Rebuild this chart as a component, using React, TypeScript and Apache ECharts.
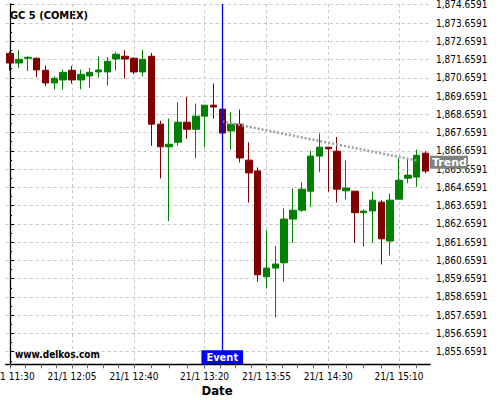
import React, { useEffect, useRef } from "react";
import * as echarts from "echarts";

const times = [
  "11:30","11:35","11:40","11:45","11:50","11:55","12:00","12:05","12:10","12:15","12:20","12:25",
  "12:30","12:35","12:40","12:45","12:50","12:55","13:00","13:05","13:10","13:15","13:20","13:25",
  "13:30","13:35","13:40","13:45","13:50","13:55","14:00","14:05","14:10","14:15","14:20","14:25",
  "14:30","14:35","14:40","14:45","14:50","14:55","15:00","15:05","15:10","15:15","15:20","15:25",
];
const opens = [1871.99,1871.47,1871.73,1871.73,1871.07,1870.38,1870.54,1871.07,1870.54,1870.76,1870.98,1870.98,1871.69,1871.84,1871.73,1870.98,1871.84,1868.12,1866.88,1867.13,1868.23,1867.84,1868.56,1869.16,1868.94,1867.75,1868.12,1866.15,1865.56,1859.76,1860.24,1860.53,1862.92,1863.41,1864.45,1866.37,1866.86,1866.64,1864.47,1864.45,1863.27,1863.37,1863.85,1861.72,1864.01,1865.16,1865.22,1866.53];
const closes = [1871.47,1871.67,1871.78,1871.09,1870.38,1870.63,1870.96,1870.54,1870.85,1870.96,1871.09,1871.56,1871.95,1871.69,1870.98,1871.67,1868.12,1866.88,1867.02,1868.23,1867.84,1868.56,1869.16,1869.06,1867.63,1868.12,1866.27,1865.45,1859.87,1860.24,1860.46,1862.92,1863.41,1864.56,1866.37,1866.86,1866.77,1864.56,1864.62,1863.27,1863.36,1863.96,1861.84,1863.96,1865.05,1865.33,1866.42,1865.55];
const lows = [1871.03,1871.20,1871.03,1870.71,1870.21,1870.02,1870.02,1870.34,1870.02,1870.13,1870.67,1870.23,1871.06,1870.62,1870.85,1870.74,1866.93,1865.15,1862.81,1866.94,1867.32,1866.26,1866.86,1868.42,1867.60,1866.73,1866.02,1863.83,1859.49,1859.13,1857.54,1859.49,1861.62,1863.32,1863.59,1865.49,1864.43,1863.83,1864.00,1861.62,1861.41,1861.62,1860.44,1860.93,1864.01,1864.89,1864.69,1865.42];
const highs = [1872.11,1872.17,1871.84,1871.76,1871.33,1870.74,1871.11,1871.31,1871.11,1871.20,1871.82,1871.80,1872.06,1872.17,1871.78,1872.20,1872.02,1868.31,1868.43,1869.32,1869.61,1869.25,1869.16,1870.34,1868.97,1868.79,1868.92,1867.13,1865.75,1862.32,1861.44,1863.51,1864.60,1864.93,1866.66,1867.61,1866.88,1867.42,1866.13,1864.45,1863.45,1864.44,1863.96,1864.33,1866.26,1866.24,1866.73,1866.64];

const xLabelIdx = [0, 7, 14, 22, 29, 36, 44];
const xLabelText = ["21/1 11:30","21/1 12:05","21/1 12:40","21/1 13:20","21/1 13:55","21/1 14:30","21/1 15:10"];
const xTickIdx = [0,1.75,3.5,5.25,7,8.75,10.5,12.25,14,16,18,20,22,23.75,25.5,27.25,29,30.75,32.5,34.25,36,38,40,42,44,46];
const yTicks = [1855.6591,1856.6591,1857.6591,1858.6591,1859.6591,1860.6591,1861.6591,1862.6591,1863.6591,1864.6591,1865.6591,1866.6591,1867.6591,1868.6591,1869.6591,1870.6591,1871.6591,1872.6591,1873.6591,1874.6591];

const eventIdx = 24;
const trendX = [24, 46];
const trendY = [1868.27, 1866.13];
const trendLabelY = 1866.04;

const Y_MIN = 1854.97;
const Y_MAX = 1874.70;

const FONT = "'DejaVu Sans Condensed', 'DejaVu Sans', sans-serif";
const FONT_WIDE = "'DejaVu Sans', sans-serif";

const fmtY = (v: number) => {
  const s = v.toFixed(4);
  const [i, d] = s.split(".");
  return i.replace(/\B(?=(\d{3})+(?!\d))/g, ",") + "." + d;
};

export default function App() {
  const ref = useRef<HTMLDivElement>(null);
  useEffect(() => {
    if (!ref.current) return;
    const chart = echarts.init(ref.current, null, { renderer: "svg" });
    const candleData = opens.map((o, i) => [o, closes[i], lows[i], highs[i]]);
    const minorY = yTicks.map((v) => v - 0.5);
    const grid = { left: 5.7, right: 70, top: 4, bottom: 35.7, outerBoundsMode: "none", containLabel: false };
    const splitStyle = { color: "#c8c8c8", width: 1, type: [3, 3] as any };
    chart.setOption({
      animation: false,
      grid,
      xAxis: [
        {
          type: "category",
          data: times,
          boundaryGap: true,
          show: false,
        },
        {
          type: "value",
          min: -0.5,
          max: 47.5,
          position: "bottom",
          axisLine: { show: true, lineStyle: { color: "#000", width: 1.3 } },
          axisTick: { show: true, length: 4, lineStyle: { color: "#666" }, customValues: xLabelIdx },
          axisLabel: {
            customValues: xLabelIdx,
            formatter: (v: number) => {
              const k = xLabelIdx.indexOf(Math.round(v));
              return k >= 0 ? xLabelText[k] : "";
            },
            color: "#000",
            fontSize: 10,
            fontFamily: FONT,
            margin: 7,
            hideOverlap: false,
          },
          splitLine: { show: true, lineStyle: splitStyle },
        },
        {
          type: "value",
          min: -0.5,
          max: 47.5,
          position: "bottom",
          axisLine: { show: false },
          axisTick: { show: true, length: 4, lineStyle: { color: "#666" }, customValues: xTickIdx },
          axisLabel: { show: false },
          splitLine: { show: false },
        },
      ],
      yAxis: [
        {
          type: "value",
          position: "right",
          min: Y_MIN,
          max: Y_MAX,
          axisLine: { show: true, lineStyle: { color: "#000", width: 1.3 } },
          axisTick: { show: true, length: 4, lineStyle: { color: "#000" }, customValues: yTicks },
          axisLabel: {
            customValues: yTicks,
            formatter: (v: number) => fmtY(v),
            color: "#000",
            fontSize: 10,
            fontFamily: FONT,
            margin: 6,
          },
          splitLine: { show: true, lineStyle: splitStyle },
        },
        {
          type: "value",
          position: "right",
          min: Y_MIN,
          max: Y_MAX,
          axisLine: { show: false },
          axisTick: { show: true, length: 2, lineStyle: { color: "#000" }, customValues: minorY },
          axisLabel: { show: false },
          splitLine: { show: false },
        },
      ],
      series: [
        {
          type: "candlestick",
          xAxisIndex: 0,
          yAxisIndex: 0,
          data: candleData,
          barWidth: 7,
          itemStyle: {
            color: "#008000",
            color0: "#800000",
            borderColor: "#008000",
            borderColor0: "#800000",
            borderWidth: 1,
          },
          markLine: {
            silent: true,
            symbol: ["none", "none"],
            label: { show: false },
            lineStyle: { color: "#0000ff", width: 1.3, type: "solid" },
            data: [{ xAxis: times[eventIdx] }],
          },
        },
        {
          type: "line",
          xAxisIndex: 1,
          yAxisIndex: 0,
          data: trendX.map((x, i) => [x, trendY[i]]),
          symbol: "none",
          lineStyle: { color: "#9c9c9c", width: 2.5, type: [2, 2] as any },
          z: 3,
        },
        {
          type: "scatter",
          xAxisIndex: 1,
          yAxisIndex: 0,
          data: [[47.5, trendLabelY]],
          symbolSize: 0,
          clip: false,
          z: 10,
          itemStyle: { opacity: 1 },
          label: {
            show: true,
            position: "right",
            distance: 0,
            formatter: "Trend",
            backgroundColor: "#808080",
            color: "#fff",
            fontWeight: "bold",
            fontSize: 11,
            fontFamily: FONT_WIDE,
            padding: [1, 1, 1, 2],
            lineHeight: 11,
          },
        },
        {
          type: "scatter",
          xAxisIndex: 0,
          yAxisIndex: 0,
          data: [[eventIdx, Y_MIN]],
          symbolSize: 0,
          clip: false,
          z: 10,
          itemStyle: { opacity: 1 },
          label: {
            show: true,
            position: "top",
            distance: 0,
            formatter: "Event",
            backgroundColor: "#0000ff",
            color: "#fff",
            fontWeight: "bold",
            fontSize: 11,
            fontFamily: FONT,
            padding: [1, 5, 1, 5],
            lineHeight: 12,
          },
        },
      ],
      graphic: [
        {
          type: "text",
          x: 10,
          y: 15.7,
          style: {
            text: "GC 5 (COMEX)",
            font: "bold 11px " + FONT,
            fill: "#000",
            textVerticalAlign: "middle",
          },
        },
        {
          type: "text",
          x: 15,
          y: 354,
          z: 20,
          style: {
            text: "www.delkos.com",
            font: "bold 10px " + FONT,
            fill: "#000",
            textVerticalAlign: "middle",
          },
        },
        {
          type: "text",
          x: 217,
          y: 390,
          style: {
            text: "Date",
            font: "bold 13px " + FONT,
            fill: "#000",
            textAlign: "center",
            textVerticalAlign: "middle",
          },
        },
      ],
    });
    return () => chart.dispose();
  }, []);
  return (
    <div
      ref={ref}
      style={{ position: "fixed", left: 0, top: 0, width: 500, height: 400, background: "#fff" }}
    />
  );
}
